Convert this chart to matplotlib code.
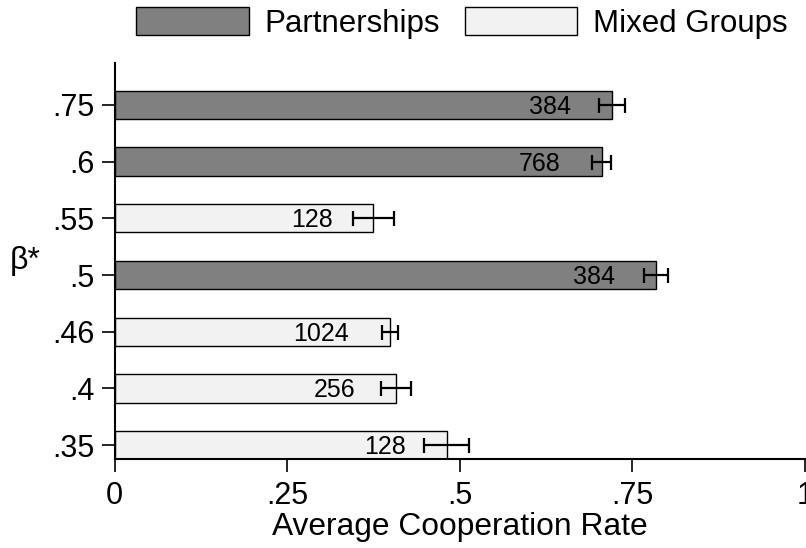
import matplotlib
matplotlib.use('Agg')
import matplotlib.pyplot as plt
from matplotlib.patches import Patch

plt.rcParams['font.family'] = ['Liberation Sans', 'DejaVu Sans']

# cooperation rates by beta*, top to bottom
beta_labels = ['.75', '.6', '.55', '.5', '.46', '.4', '.35']
coop_rate = [0.721, 0.706, 0.375, 0.784, 0.399, 0.408, 0.481]
coop_se = [0.019, 0.0135, 0.030, 0.0175, 0.011, 0.022, 0.032]
n_obs = [384, 768, 128, 384, 1024, 256, 128]
treatment = ['Partnerships', 'Partnerships', 'Mixed Groups', 'Partnerships',
             'Mixed Groups', 'Mixed Groups', 'Mixed Groups']

colors = {'Partnerships': '#808080', 'Mixed Groups': '#f2f2f2'}

fig = plt.figure(figsize=(8.06, 5.48), dpi=100)
ax = fig.add_axes([0.1423, 0.1619, 0.856, 0.7232])

ypos = [len(beta_labels) - 1 - i for i in range(len(beta_labels))]
ax.barh(ypos, coop_rate, height=0.5,
        color=[colors[t] for t in treatment], edgecolor='black', linewidth=1.0,
        zorder=2)
ax.errorbar(coop_rate, ypos, xerr=coop_se, fmt='none', ecolor='black',
            elinewidth=1.6, capsize=5.4, capthick=1.6, zorder=3)

for y, v, n in zip(ypos, coop_rate, n_obs):
    ax.annotate(str(n), xy=(v, y), xytext=(-29.5, -1.5), textcoords='offset points',
                ha='right', va='center', fontsize=18)

ax.set_xlim(0, 1)
ax.set_ylim(-0.25, 6.74)
ax.set_xticks([0, 0.25, 0.5, 0.75, 1])
ax.set_xticklabels(['0', '.25', '.5', '.75', '1'])
ax.set_yticks(ypos)
ax.set_yticklabels(beta_labels)
ax.tick_params(labelsize=22, width=1.2, length=9.5, pad=5)
ax.tick_params(axis='x', pad=6)

for side in ['top', 'right']:
    ax.spines[side].set_visible(False)
for side in ['left', 'bottom']:
    ax.spines[side].set_linewidth(1.5)

ax.set_xlabel('Average Cooperation Rate', fontsize=22.9, labelpad=1)
ax.set_ylabel('β*', fontsize=23, rotation=0, va='center', ha='center')
ax.yaxis.set_label_coords(-0.13, 0.5)

handles = [Patch(facecolor=colors[k], edgecolor='black', linewidth=1.0, label=k)
           for k in ['Partnerships', 'Mixed Groups']]
fig.legend(handles=handles, loc='center', bbox_to_anchor=(0.573, 1 - 23 / 548),
           ncol=2, frameon=False, fontsize=22.5, handlelength=3.6, handleheight=1.0,
           handletextpad=0.5, columnspacing=0.8)

fig.savefig('out.png', dpi=100)
